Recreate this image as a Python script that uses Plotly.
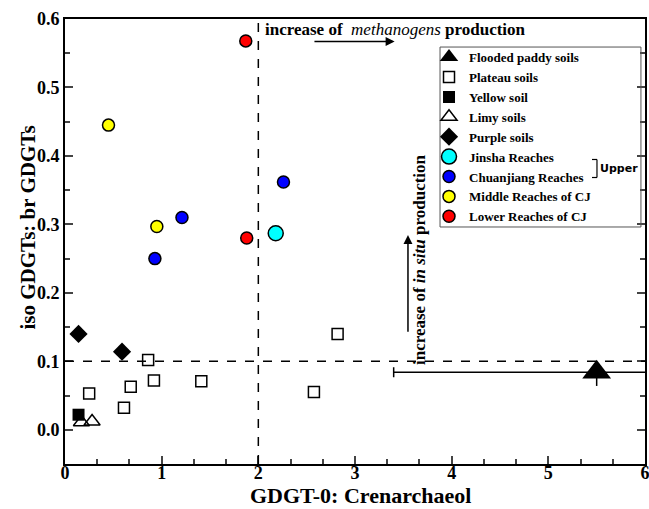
import plotly.graph_objects as go

# ---- data ----
flooded_x = [5.50]
flooded_y = [0.084]
flooded_xerr_minus = [2.10]
flooded_xerr_plus = [1.00]
flooded_yerr_minus = [0.020]

plateau_x = [0.25, 0.61, 0.68, 0.86, 0.92, 1.41, 2.575, 2.82]
plateau_y = [0.053, 0.032, 0.063, 0.102, 0.072, 0.071, 0.055, 0.140]

yellow_soil_x = [0.14]
yellow_soil_y = [0.022]

limy_x = [0.17, 0.28]
limy_y = [0.011, 0.012]

purple_x = [0.14, 0.59]
purple_y = [0.140, 0.114]

jinsha_x = [2.18]
jinsha_y = [0.287]

chuanjiang_x = [0.93, 1.21, 2.26]
chuanjiang_y = [0.250, 0.310, 0.362]

middle_x = [0.45, 0.95]
middle_y = [0.445, 0.297]

lower_x = [1.87, 1.88]
lower_y = [0.568, 0.280]

x_ticks = [0, 1, 2, 3, 4, 5, 6]
y_ticks = [0.0, 0.1, 0.2, 0.3, 0.4, 0.5, 0.6]
y_tick_labels = ["0.0", "0.1", "0.2", "0.3", "0.4", "0.5", "0.6"]

FONT = "Liberation Serif"

fig = go.Figure()

fig.add_trace(go.Scatter(
    x=flooded_x, y=flooded_y, mode="markers", name="<b>Flooded paddy soils</b>",
    marker=dict(symbol="triangle-up", size=25, color="black"),
    error_x=dict(type="data", symmetric=False, array=flooded_xerr_plus,
                 arrayminus=flooded_xerr_minus, color="black", thickness=1.5, width=5),
    error_y=dict(type="data", symmetric=False, array=[0], arrayminus=flooded_yerr_minus,
                 color="black", thickness=1.5, width=0),
))
fig.add_trace(go.Scatter(
    x=plateau_x, y=plateau_y, mode="markers", name="<b>Plateau soils</b>",
    marker=dict(symbol="square-open", size=11, color="black", line=dict(width=1.5)),
))
fig.add_trace(go.Scatter(
    x=yellow_soil_x, y=yellow_soil_y, mode="markers", name="<b>Yellow soil</b>",
    marker=dict(symbol="square", size=12, color="black"),
))
fig.add_trace(go.Scatter(
    x=limy_x, y=limy_y, mode="markers", name="<b>Limy soils</b>",
    marker=dict(symbol="triangle-up-open", size=14, color="black", line=dict(width=1.5)),
))
fig.add_trace(go.Scatter(
    x=purple_x, y=purple_y, mode="markers", name="<b>Purple soils</b>",
    marker=dict(symbol="diamond", size=14, color="black"),
))
circle_sets = [
    (jinsha_x, jinsha_y, "<b>Jinsha Reaches</b>", "#00ffff", 15),
    (chuanjiang_x, chuanjiang_y, "<b>Chuanjiang Reaches</b>", "#0000ff", 12),
    (middle_x, middle_y, "<b>Middle Reaches of CJ</b>", "#ffff00", 12),
    (lower_x, lower_y, "<b>Lower Reaches of CJ</b>", "#ff0000", 12),
]
for xs, ys, nm, col, sz in circle_sets:
    fig.add_trace(go.Scatter(
        x=xs, y=ys, mode="markers", name=nm,
        marker=dict(symbol="circle", size=sz, color=col, line=dict(color="black", width=1.5)),
    ))

# dashed reference lines
fig.add_shape(type="line", x0=2, x1=2, y0=-0.05, y1=0.6, xref="x", yref="y",
              line=dict(color="black", width=1.5, dash="dash"))
fig.add_shape(type="line", x0=0, x1=6, y0=0.1, y1=0.1, xref="x", yref="y",
              line=dict(color="black", width=1.5, dash="dash"))

# legend frame
fig.add_shape(type="rect", x0=0.6466, x1=0.993, y0=0.5326, y1=0.937,
              xref="paper", yref="paper", line=dict(color="#555555", width=1),
              fillcolor="rgba(0,0,0,0)")

# annotations
fig.add_annotation(x=2.05, y=0.585, xref="x", yref="y", xanchor="left", yanchor="middle",
                   text="<b>increase of </b> <i>methanogens</i> <b>production</b>",
                   showarrow=False, font=dict(family=FONT, size=17, color="black"))
fig.add_annotation(x=3.41, y=0.567, ax=2.565, ay=0.567, xref="x", yref="y",
                   axref="x", ayref="y", text="", showarrow=True,
                   arrowhead=2, arrowsize=1.2, arrowwidth=1.5, arrowcolor="black")
fig.add_annotation(x=3.548, y=0.2845, ax=3.548, ay=0.141, xref="x", yref="y",
                   axref="x", ayref="y", text="", showarrow=True,
                   arrowhead=2, arrowsize=1.2, arrowwidth=1.5, arrowcolor="black")
fig.add_annotation(x=3.662, y=0.2494, xref="x", yref="y", textangle=-90,
                   text="<b>increase of <i>in situ</i> production</b>",
                   showarrow=False, font=dict(family=FONT, size=17, color="black"))

# axis titles
fig.add_annotation(x=0.510, y=-0.0697, xref="paper", yref="paper",
                   xanchor="center", yanchor="middle", borderpad=0,
                   text="<b>GDGT-0: Crenarchaeol</b>", showarrow=False,
                   font=dict(family=FONT, size=22, color="black"))
fig.add_annotation(x=-0.0638, y=0.5315, xref="paper", yref="paper", textangle=-90,
                   xanchor="center", yanchor="middle", borderpad=0,
                   text="<b>iso GDGTs: br GDGTs</b>", showarrow=False,
                   font=dict(family=FONT, size=21, color="black"))

# "Upper" bracket (paper coordinates, next to the legend rows)
br_x0, br_x1 = 0.9086, 0.9172
br_y0, br_y1 = 0.6438, 0.6843
fig.add_shape(type="line", x0=br_x1, x1=br_x1, y0=br_y0, y1=br_y1, xref="paper", yref="paper",
              line=dict(color="black", width=1.2))
fig.add_shape(type="line", x0=br_x0, x1=br_x1, y0=br_y1, y1=br_y1, xref="paper", yref="paper",
              line=dict(color="black", width=1.2))
fig.add_shape(type="line", x0=br_x0, x1=br_x1, y0=br_y0, y1=br_y0, xref="paper", yref="paper",
              line=dict(color="black", width=1.2))
fig.add_annotation(x=0.9207, y=0.664, xref="paper", yref="paper", xanchor="left",
                   text="<b>Upper</b>", showarrow=False, borderpad=0,
                   font=dict(family="DejaVu Sans", size=11, color="black"))

fig.update_layout(
    width=649, height=509,
    margin=dict(l=65, r=4, t=19, b=45),
    plot_bgcolor="white", paper_bgcolor="white",
    font=dict(family=FONT, color="black"),
    showlegend=True,
    legend=dict(x=0.6276, y=0.948, xanchor="left", yanchor="top",
                bgcolor="rgba(255,255,255,0)", borderwidth=0,
                font=dict(family=FONT, size=13, color="black"),
                itemwidth=30, tracegroupgap=0),
)
fig.update_xaxes(
    range=[0, 6], tickvals=x_ticks, ticktext=["<b>%d</b>" % v for v in x_ticks],
    ticks="inside", ticklen=8, tickwidth=1.5, automargin=False,
    ticklabelstandoff=-9, ticklabeloverflow="allow",
    tickfont=dict(family=FONT, size=18), showgrid=False, zeroline=False,
    showline=True, linecolor="black", linewidth=2, mirror=True,
    minor=dict(dtick=1/3, ticks="inside", ticklen=5, tickwidth=1.5, showgrid=False),
)
fig.update_yaxes(
    range=[-0.05, 0.6], tickvals=y_ticks, ticktext=["<b>%s</b>" % t for t in y_tick_labels],
    ticks="inside", ticklen=8, tickwidth=1.5, automargin=False,
    tickfont=dict(family=FONT, size=18), showgrid=False, zeroline=False,
    showline=True, linecolor="black", linewidth=2, mirror="ticks",
    minor=dict(dtick=0.05, tick0=0, ticks="inside", ticklen=5, tickwidth=1.5, showgrid=False),
)

fig.write_html("out.html")
